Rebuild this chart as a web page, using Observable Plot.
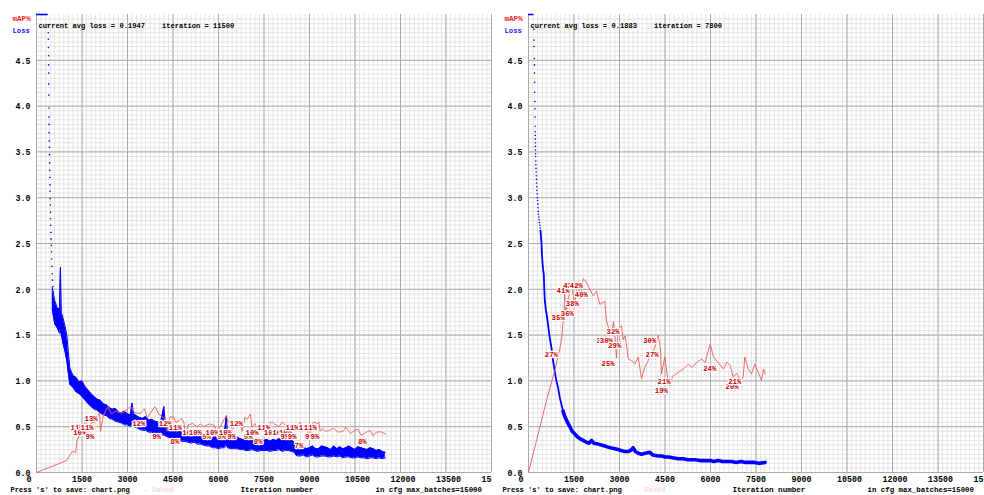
<!DOCTYPE html>
<html>
<head>
<meta charset="utf-8">
<script src="https://cdn.jsdelivr.net/npm/d3@7"></script>
<script src="https://cdn.jsdelivr.net/npm/@observablehq/plot@0.6"></script>
<style>
  html, body { margin: 0; padding: 0; background: white; }
  #wrap { display: flex; width: 984px; height: 495px; overflow: hidden; }
  svg text { white-space: pre; }
</style>
</head>
<body>
<div id="wrap"></div>
<script>
// ---- axis tick values & labels ----
const xTickValues = [0, 1500, 3000, 4500, 6000, 7500, 9000, 10500, 12000, 13500, 15000];
const yTickValues = [0, 0.5, 1, 1.5, 2, 2.5, 3, 3.5, 4, 4.5];
const yTickLabels = ["0.0", "0.5", "1.0", "1.5", "2.0", "2.5", "3.0", "3.5", "4.0", "4.5"];

// ---- chart texts ----
const leftHeader = "current avg loss = 0.1947    iteration = 11500";
const rightHeader = "current avg loss = 0.1883    iteration = 7800";
const footerPress = "Press 's' to save: chart.png";
const footerSaved = "- Saved";
const footerAxis = "Iteration number";
const footerMax = "in cfg max_batches=15000";

// ---- loss clipped at the top until this iteration ----
const leftClampEnd = 385;
const rightClampEnd = 176;

// left early loss dots [iteration, loss]
const leftLossDots = [
  [385,4.89],[388,4.8],[390,4.73],[393,4.64],[396,4.55],[398,4.45],[400,4.36],[402,4.24],[404,4.12],
  [407,3.98],[410,3.88],[413,3.8],[416,3.71],[420,3.62],[424,3.55],[428,3.47],[433,3.38],[437,3.3],
  [441,3.22],[445,3.14],[449,3.07],[452,2.99],[456,2.92],[460,2.84],[465,2.77],[470,2.7],[476,2.62],
  [482,2.55],[489,2.48],[495,2.41],[502,2.33],[510,2.25],[518,2.17],[528,2.1],[540,2.03],[550,1.97]
];

// left loss band [iteration, low, high]
const leftLossBand = [
  [520,1.78,2.02],[600,1.62,1.88],[680,1.58,1.8],[760,1.52,1.78],[790,1.55,2.24],[820,1.5,1.75],
  [880,1.4,1.68],[940,1.32,1.6],[1000,1.22,1.5],[1050,1.08,1.32],[1100,0.96,1.14],[1200,0.93,1.06],
  [1300,0.88,1.04],[1400,0.86,0.99],[1500,0.83,1.0],[1600,0.79,0.94],[1700,0.75,0.9],[1800,0.72,0.86],
  [1900,0.69,0.83],[2000,0.68,0.8],[2100,0.65,0.79],[2200,0.63,0.75],[2300,0.62,0.74],[2400,0.59,0.71],
  [2500,0.58,0.69],[2600,0.56,0.7],[2700,0.55,0.66],[2800,0.54,0.65],[2900,0.52,0.67],[3000,0.52,0.64],
  [3100,0.5,0.63],[3150,0.51,0.76],[3200,0.5,0.64],[3300,0.49,0.62],[3400,0.47,0.6],[3500,0.46,0.59],
  [3600,0.46,0.61],[3700,0.44,0.57],[3800,0.44,0.58],[3900,0.43,0.56],[4000,0.42,0.55],[4100,0.41,0.56],
  [4200,0.41,0.72],[4250,0.4,0.53],[4300,0.39,0.52],[4400,0.38,0.5],[4500,0.37,0.5],[4600,0.35,0.48],
  [4700,0.35,0.46],[4800,0.34,0.47],[4900,0.34,0.45],[5000,0.33,0.44],[5100,0.32,0.44],[5200,0.33,0.42],
  [5300,0.31,0.43],[5400,0.31,0.41],[5500,0.3,0.42],[5600,0.29,0.4],[5700,0.29,0.41],[5800,0.27,0.38],
  [5900,0.27,0.39],[6000,0.26,0.37],[6100,0.27,0.39],[6200,0.27,0.45],[6260,0.3,0.62],[6300,0.27,0.39],
  [6400,0.26,0.38],[6500,0.26,0.37],[6600,0.26,0.39],[6700,0.25,0.37],[6800,0.25,0.36],[6900,0.24,0.37],
  [7000,0.24,0.35],[7100,0.25,0.37],[7200,0.24,0.35],[7300,0.23,0.34],[7400,0.24,0.36],[7500,0.24,0.35],
  [7600,0.24,0.36],[7700,0.23,0.34],[7800,0.24,0.36],[7900,0.24,0.35],[8000,0.25,0.37],[8100,0.23,0.35],
  [8200,0.24,0.36],[8300,0.24,0.35],[8400,0.23,0.36],[8500,0.22,0.33],[8550,0.19,0.28],[8600,0.18,0.27],
  [8700,0.18,0.26],[8800,0.19,0.28],[8900,0.17,0.26],[9000,0.18,0.27],[9100,0.19,0.29],[9200,0.17,0.26],
  [9300,0.17,0.26],[9400,0.18,0.29],[9500,0.18,0.28],[9600,0.17,0.27],[9700,0.17,0.25],[9800,0.18,0.29],
  [9900,0.17,0.26],[10000,0.18,0.28],[10100,0.16,0.26],[10200,0.17,0.27],[10300,0.17,0.29],[10400,0.16,0.27],
  [10500,0.16,0.25],[10600,0.17,0.28],[10700,0.16,0.27],[10800,0.16,0.26],[10900,0.15,0.25],[11000,0.16,0.27],
  [11100,0.16,0.26],[11200,0.15,0.24],[11300,0.16,0.25],[11400,0.15,0.23],[11500,0.16,0.22]
];

// left mAP series [iteration, mAP %]
const leftMap = [
  [0,0],[990,2.6],[1180,4.6],[1290,4.4],[1340,7.0],[1450,8.6],[1530,10.4],[1616,11],[1705,10],[1800,10.8],
  [1945,11],[2030,12.4],[2080,13],[2110,9],[2200,12.4],[2350,14.4],[2470,12.8],[2600,13.4],[2720,13.1],
  [2830,12.9],[2950,13.6],[3100,14.4],[3250,13.0],[3430,12.9],[3560,13.9],[3650,12],[3780,13.2],[3900,14.4],
  [4050,12.6],[4200,11.9],[4310,9],[4400,12.2],[4527,12],[4600,10.9],[4780,11.8],[4857,11],[4913,8],
  [5000,10.4],[5150,10.7],[5298,10],[5400,10.6],[5517,10],[5700,10.6],[5850,10.3],[5957,9],[6066,10],
  [6180,11.6],[6264,12.3],[6320,11.0],[6400,11.3],[6452,9],[6505,10],[6600,10.8],[6700,10.5],[6782,9],
  [6868,12],[6950,11.6],[7055,12.8],[7100,9.9],[7200,10.7],[7330,9],[7385,10],[7500,10.6],[7660,8],
  [7710,10.9],[7770,11],[7850,10.6],[7990,10],[8100,11.0],[8265,10],[8400,10.4],[8485,10],[8540,9],
  [8620,10.4],[8704,11],[8780,9],[8900,10.5],[9000,7],[9080,10.6],[9143,11],[9253,10.7],[9308,11],
  [9350,9],[9420,9.6],[9530,9],[9650,9.2],[9800,9.6],[9950,8.8],[10100,9.0],[10200,9.9],[10350,8.5],
  [10450,9.0],[10600,9.5],[10700,8.1],[10850,8.7],[11000,9.2],[11090,8],[11200,8.8],[11350,8.9],[11506,8.4]
];

// left mAP labels [iteration, mAP %]
const leftMapLabels = [
  [1616,11],[1705,10],[1945,11],[2080,13],[2110,9],[3650,12],[4310,9],[4527,12],[4857,11],[4913,8],
  [5298,10],[5517,10],[5957,9],[6066,10],[6452,9],[6505,10],[6782,9],[6868,12],[7330,9],[7385,10],
  [7660,8],[7770,11],[7990,10],[8265,10],[8485,10],[8540,9],[8704,11],[8780,9],[9000,7],[9143,11],
  [9308,11],[9350,9],[9530,9],[11090,8]
];

// ---- right chart ----
const rightLossDots = [
  [176,4.84],[180,4.72],[186,4.65],[192,4.52],[198,4.45],[199,4.36],[202,4.26],[205,4.15],[210,4.05],
  [213,3.97],[216,3.88],[220,3.78],[222,3.72],[224,3.68],[226,3.64],[228,3.6],[230,3.56],[231,3.52],
  [234,3.48],[236,3.45],[240,3.4],[244,3.36],[248,3.32],[252,3.28],[257,3.24],[262,3.2],[267,3.16],
  [272,3.12],[278,3.08],[285,3.04],[292,3.0],[300,2.97],[307,2.93],[315,2.89],[322,2.85],[330,2.82],
  [340,2.79],[350,2.76],[362,2.73],[375,2.7],[386,2.67],[396,2.64]
];
const rightLossCurve = [
  [396,2.64],[410,2.58],[429,2.5],[440,2.4],[460,2.3],[480,2.22],[505,2.16],[520,2.0],[538,1.88],
  [570,1.78],[610,1.7],[649,1.6],[700,1.47],[758,1.36],[810,1.22],[867,1.1],[920,1.0],[979,0.92],
  [1030,0.82],[1088,0.74],[1140,0.67]
];
const rightLossTail = [
  [1140,0.67],[1197,0.61],[1280,0.55],[1362,0.5],[1440,0.45],[1527,0.42],[1610,0.39],[1692,0.37],
  [1800,0.35],[1912,0.33],[1990,0.32],[2077,0.35],[2150,0.32],[2298,0.31],[2400,0.3],[2516,0.29],
  [2600,0.28],[2700,0.27],[2846,0.26],[2950,0.25],[3050,0.24],[3175,0.23],[3300,0.23],[3400,0.25],
  [3450,0.27],[3520,0.23],[3620,0.21],[3726,0.2],[3850,0.21],[4000,0.22],[4100,0.19],[4276,0.18],
  [4400,0.18],[4500,0.17],[4606,0.17],[4750,0.16],[4935,0.15],[5100,0.15],[5250,0.14],[5374,0.14],
  [5500,0.14],[5650,0.13],[5813,0.13],[6000,0.13],[6100,0.12],[6253,0.13],[6400,0.12],[6550,0.12],
  [6693,0.12],[6850,0.11],[7000,0.12],[7150,0.11],[7300,0.11],[7450,0.11],[7600,0.1],[7800,0.11]
];
const rightMap = [
  [0,0],[593,15.7],[867,22.3],[1032,27],[1100,29.5],[1143,33.2],[1175,33.4],[1190,39.5],[1220,35],
  [1253,35.5],[1309,37.9],[1418,41],[1527,36.5],[1583,39.5],[1639,41.5],[1700,38],[1803,42.3],[1856,42],
  [1950,41],[2021,40],[2133,38.6],[2242,39.6],[2350,36.7],[2515,37.4],[2572,33],[2648,31.4],[2736,30],
  [2800,33],[2845,30],[2901,25],[2950,31],[3010,31.7],[3066,32],[3122,29],[3180,29.8],[3230,28],
  [3287,24.8],[3396,24.4],[3505,23.7],[3616,25.2],[3726,20.5],[3835,23],[3946,24.4],[4055,25.9],
  [4160,27.2],[4276,30],[4352,27],[4385,21.5],[4494,25.2],[4583,20.8],[4659,19],[4748,21],[4850,21.4],
  [4945,21.9],[5110,22.6],[5275,23.7],[5380,22.9],[5495,23.7],[5600,24.3],[5715,24.8],[5820,24],
  [5990,28.1],[6100,25.2],[6254,24],[6430,22.6],[6540,24.1],[6650,23.4],[6749,20.8],[6860,21.7],
  [6990,20],[7079,21],[7131,25.2],[7244,22.6],[7352,21.5],[7461,23.7],[7573,21.9],[7682,20.1],
  [7750,22.6],[7800,21.5]
];
const rightMapLabels = [
  [1032,27],[1253,35],[1418,41],[1560,36],[1639,42],[1724,38],[1856,42],[2021,40],[2736,30],[2845,30],
  [2901,25],[3066,32],[3122,29],[4276,30],[4352,27],[4659,19],[4748,21],[6254,24],[6990,20],[7079,21]
];

// ---- drawing ----
const FONT = "Liberation Mono, DejaVu Sans Mono, monospace";
const minorX = d3.range(0, 101).map(i => i * 150);
const minorY = d3.range(1, 100).map(i => i / 20);

function panel(cfg) {
  const marks = [
    Plot.ruleX(minorX, {y1: 0, y2: 5, stroke: "#e4e4e4"}),
    Plot.ruleY(minorY, {x1: 0, x2: 15000, stroke: "#e4e4e4"}),
    Plot.ruleX(xTickValues, {y1: 0, y2: 5, stroke: "#ababab"}),
    Plot.ruleY(yTickValues, {x1: 0, x2: 15000, stroke: "#ababab"}),
    Plot.text(xTickValues, {x: d => d, frameAnchor: "bottom", dx: -10, dy: 9, textAnchor: "start",
      lineAnchor: "bottom", text: d => String(d), fontSize: 8.3, fontWeight: "bold", fill: "#000"}),
    Plot.text(yTickValues, {y: d => d, frameAnchor: "left", dx: -21, dy: 3.3, textAnchor: "start",
      lineAnchor: "bottom", text: (d, i) => yTickLabels[i], fontSize: 8.3, fontWeight: "bold", fill: "#000"}),
    Plot.ruleY([5], {x1: 0, x2: cfg.clampEnd, stroke: "#0000ff", strokeWidth: 1.6}),
    Plot.dot(cfg.dots, {x: d => d[0], y: d => d[1], r: 0.8, fill: "#0000ff", stroke: null})
  ];
  if (cfg.band) {
    marks.push(Plot.areaY(cfg.band, {x: d => d[0], y1: d => d[1], y2: d => d[2], fill: "#0000ff"}));
    marks.push(Plot.line(cfg.band, {x: d => d[0], y: d => d[2], stroke: "#0000ff", strokeWidth: 1}));
    marks.push(Plot.line(cfg.band, {x: d => d[0], y: d => d[1], stroke: "#0000ff", strokeWidth: 1}));
  }
  if (cfg.curve) {
    marks.push(Plot.line(cfg.curve, {x: d => d[0], y: d => d[1], stroke: "#0000ff", strokeWidth: 1.8}));
  }
  if (cfg.tail) {
    marks.push(Plot.line(cfg.tail, {x: d => d[0], y: d => d[1], stroke: "#0000ff", strokeWidth: 3.6}));
  }
  marks.push(
    Plot.line(cfg.map, {x: d => d[0], y: d => d[1] / 20, stroke: "#f05a5a", strokeWidth: 0.9}),
    Plot.text(cfg.labels, {x: d => d[0], y: d => d[1] / 20, text: d => d[1] + "%", dx: -15, dy: 8,
      textAnchor: "start", lineAnchor: "bottom", fill: "#c80000", stroke: "white", strokeWidth: 2.4,
      paintOrder: "stroke", fontSize: 7.3, fontWeight: "bold"}),
    Plot.text(["mAP%"], {frameAnchor: "top-left", dx: -24, dy: 6, textAnchor: "start", lineAnchor: "bottom",
      text: d => d, fill: "#ff2020", fontSize: 7.6, fontWeight: "bold"}),
    Plot.text(["Loss"], {frameAnchor: "top-left", dx: -24, dy: 18, textAnchor: "start", lineAnchor: "bottom",
      text: d => d, fill: "#2020ff", fontSize: 7.2, fontWeight: "bold"}),
    Plot.text([cfg.header], {frameAnchor: "top-left", dx: 2, dy: 13, textAnchor: "start", lineAnchor: "bottom",
      text: d => d, fill: "#000", fontSize: 7.1, fontWeight: "bold"}),
    Plot.text([footerPress], {frameAnchor: "bottom-left", dx: -26, dy: 19, textAnchor: "start", lineAnchor: "bottom",
      text: d => d, fill: "#000", fontSize: 7.1, fontWeight: "bold"}),
    Plot.text([footerSaved], {frameAnchor: "bottom-left", dx: 107, dy: 19, textAnchor: "start", lineAnchor: "bottom",
      text: d => d, fill: "#ffd6d6", fontSize: 7.1, fontWeight: "bold"}),
    Plot.text([footerAxis], {frameAnchor: "bottom-left", dx: 204, dy: 19, textAnchor: "start", lineAnchor: "bottom",
      text: d => d, fill: "#000", fontSize: 7.6, fontWeight: "bold"}),
    Plot.text([footerMax], {frameAnchor: "bottom-left", dx: 339, dy: 19, textAnchor: "start", lineAnchor: "bottom",
      text: d => d, fill: "#000", fontSize: 7.4, fontWeight: "bold"})
  );
  return Plot.plot({
    width: 492, height: 495,
    marginLeft: 36, marginRight: 1, marginTop: 14, marginBottom: 23,
    x: {domain: [0, 15000], axis: null},
    y: {domain: [0, 5], axis: null},
    style: {background: "white", fontFamily: FONT, overflow: "hidden"},
    marks
  });
}

const wrap = document.getElementById("wrap");
wrap.append(panel({
  header: leftHeader, clampEnd: leftClampEnd, dots: leftLossDots, band: leftLossBand,
  map: leftMap, labels: leftMapLabels
}));
wrap.append(panel({
  header: rightHeader, clampEnd: rightClampEnd, dots: rightLossDots, curve: rightLossCurve, tail: rightLossTail,
  map: rightMap, labels: rightMapLabels
}));
</script>
</body>
</html>
